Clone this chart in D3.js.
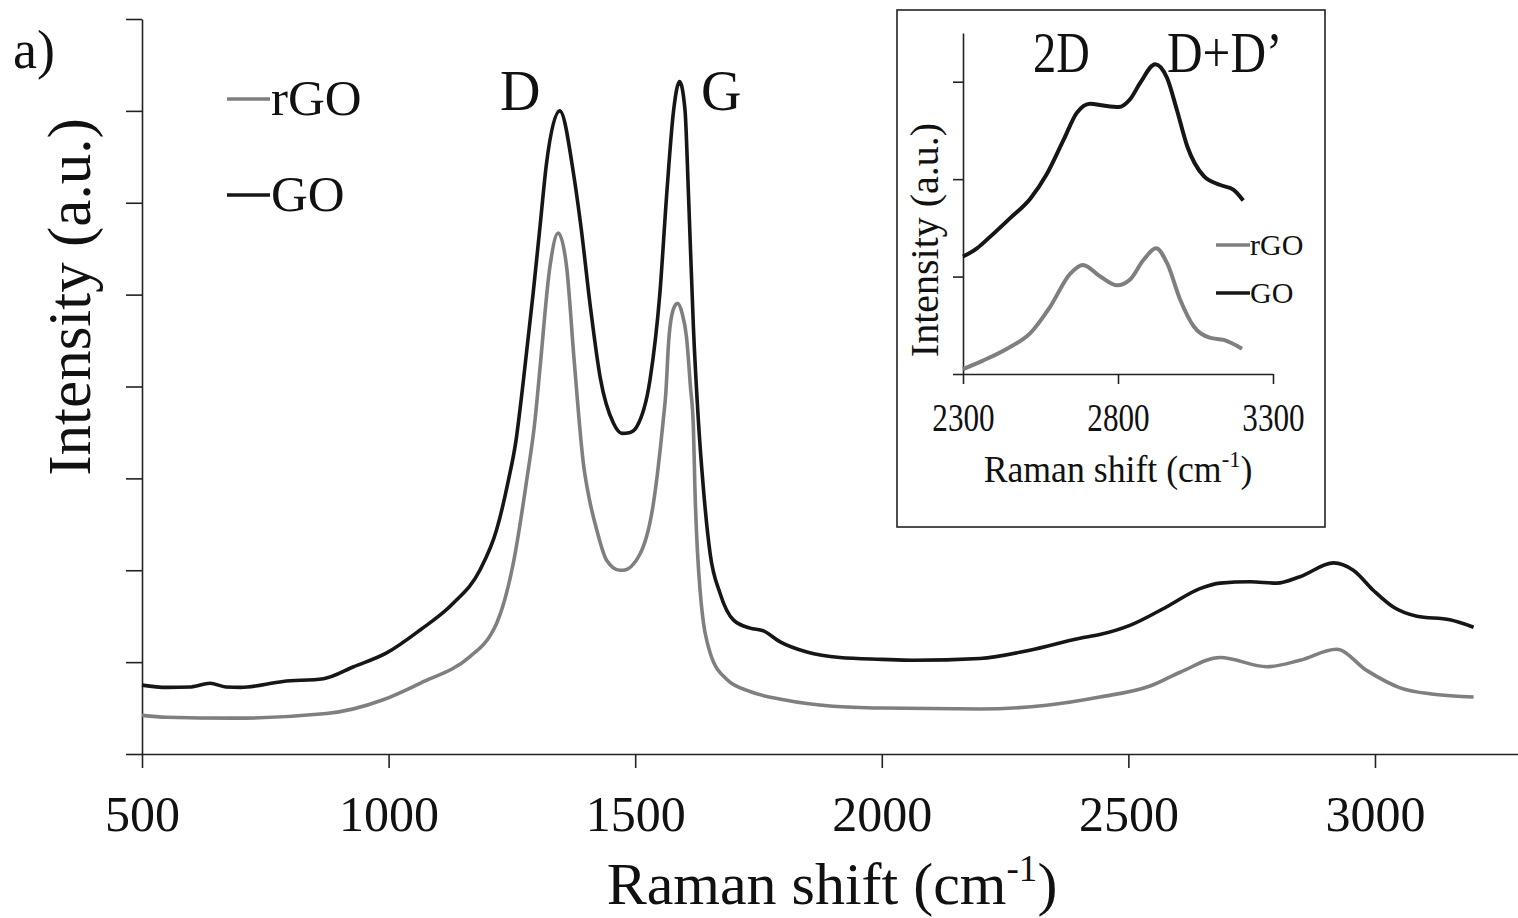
<!DOCTYPE html>
<html>
<head>
<meta charset="utf-8">
<script src="https://cdn.jsdelivr.net/npm/d3@7"></script>
<style>
  html, body { margin: 0; padding: 0; background: #fff; }
  svg { display: block; }
  text { font-family: "Liberation Serif", "Times New Roman", serif; fill: #111; }
</style>
</head>
<body>
<svg id="chart" width="1518" height="918"></svg>
<script>
// ---------- DATA ----------
const mainXTicks = [500, 1000, 1500, 2000, 2500, 3000];
const mainYTicks = [0, 1, 2, 3, 4, 5, 6, 7, 8];
const insetXTicks = [2300, 2800, 3300];
const insetYTicks = [0, 1, 2, 3];

const goShift = [500, 550, 600, 638, 670, 700, 786, 868, 929, 996, 1064, 1131, 1185, 1219, 1243, 1258, 1273, 1293, 1307, 1320, 1347, 1376, 1390, 1410, 1429, 1456, 1473, 1490, 1503, 1530, 1550, 1564, 1578, 1590, 1601, 1608, 1618, 1628, 1638, 1652, 1672, 1699, 1733, 1760, 1794, 1848, 1915, 2000, 2064, 2199, 2300, 2402, 2442, 2503, 2577, 2645, 2686, 2747, 2801, 2848, 2916, 2956, 2997, 3037, 3085, 3152, 3200];
const goIntensity = [0.75, 0.725, 0.73, 0.77, 0.73, 0.725, 0.79, 0.82, 0.95, 1.10, 1.35, 1.64, 2.00, 2.44, 2.98, 3.40, 4.05, 5.01, 5.74, 6.42, 7.00, 6.28, 5.74, 4.83, 4.10, 3.60, 3.49, 3.50, 3.56, 4.07, 5.01, 6.10, 7.01, 7.32, 7.01, 6.10, 4.65, 3.64, 2.91, 2.18, 1.75, 1.46, 1.37, 1.34, 1.22, 1.11, 1.05, 1.03, 1.02, 1.04, 1.13, 1.26, 1.30, 1.40, 1.60, 1.80, 1.86, 1.875, 1.86, 1.93, 2.08, 2.00, 1.78, 1.60, 1.50, 1.46, 1.38];

const rgoShift = [500, 550, 685, 874, 989, 1064, 1165, 1205, 1219, 1253, 1280, 1297, 1307, 1327, 1344, 1361, 1376, 1395, 1408, 1422, 1442, 1469, 1475, 1510, 1537, 1557, 1562, 1568, 1578, 1586, 1595, 1604, 1612, 1618, 1621, 1631, 1652, 1686, 1733, 1801, 1901, 2000, 2199, 2334, 2442, 2544, 2605, 2686, 2781, 2848, 2922, 2983, 3051, 3119, 3200];
const rgoIntensity = [0.42, 0.40, 0.39, 0.44, 0.59, 0.77, 1.06, 1.28, 1.42, 2.08, 2.98, 3.64, 4.20, 5.30, 5.67, 5.30, 4.30, 3.16, 2.75, 2.44, 2.11, 2.00, 2.00, 2.18, 2.73, 3.64, 3.92, 4.50, 4.85, 4.905, 4.80, 4.54, 4.00, 3.56, 2.91, 1.82, 1.10, 0.81, 0.68, 0.59, 0.52, 0.50, 0.49, 0.53, 0.62, 0.74, 0.89, 1.05, 0.95, 1.02, 1.14, 0.91, 0.72, 0.65, 0.62];

const insetGoShift = [2300, 2345, 2388, 2452, 2517, 2570, 2624, 2667, 2710, 2753, 2802, 2839, 2872, 2920, 2958, 2990, 3023, 3077, 3130, 3173, 3204];
const insetGoIntensity = [1.205, 1.29, 1.41, 1.60, 1.80, 2.05, 2.40, 2.68, 2.775, 2.755, 2.74, 2.82, 2.99, 3.18, 3.04, 2.71, 2.34, 2.03, 1.94, 1.89, 1.78];
const insetRgoShift = [2300, 2366, 2442, 2517, 2581, 2646, 2687, 2743, 2797, 2839, 2882, 2923, 2958, 3001, 3044, 3098, 3141, 3200];
const insetRgoIntensity = [0.05, 0.14, 0.26, 0.42, 0.69, 1.03, 1.12, 1.00, 0.91, 0.97, 1.17, 1.29, 1.14, 0.76, 0.49, 0.37, 0.35, 0.26];

const seriesNames = ["rGO", "GO"];
const seriesColors = ["#7f7f7f", "#161616"];
const peakLabelsMain = ["D", "G"];
const peakLabelsInset = ["2D", "D+D\u2019"];

// ---------- DRAW ----------
const svg = d3.select("#chart");
const zip = (xs, ys) => xs.map((x, i) => ({x, y: ys[i]}));

// main scales
const x = d3.scaleLinear().domain([500, 3290]).range([142, 1518]);
const y = d3.scaleLinear().domain([0, 8]).range([754, 19]);

const axisColor = "#222";

const gx = svg.append("g").attr("transform", "translate(0,754)")
  .call(d3.axisBottom(x).tickValues(mainXTicks).tickSize(14).tickSizeOuter(0).tickPadding(27).tickFormat(d3.format("d")));
const gy = svg.append("g").attr("transform", "translate(142,0)")
  .call(d3.axisLeft(y).tickValues(mainYTicks).tickSize(16).tickSizeOuter(0).tickFormat(""));
[gx, gy].forEach(g => {
  g.selectAll("path.domain").attr("stroke", axisColor).attr("stroke-width", 1.6);
  g.selectAll(".tick line").attr("stroke", axisColor).attr("stroke-width", 1.6);
});
gx.selectAll(".tick text").attr("font-size", 50).attr("font-family", "Liberation Serif").attr("fill", "#111");

const line = d3.line().x(d => x(d.x)).y(d => y(d.y)).curve(d3.curveMonotoneX);
svg.append("path").datum(zip(rgoShift, rgoIntensity))
  .attr("d", line).attr("fill", "none").attr("stroke", seriesColors[0]).attr("stroke-width", 3.6).attr("stroke-linejoin", "round");
svg.append("path").datum(zip(goShift, goIntensity))
  .attr("d", line).attr("fill", "none").attr("stroke", seriesColors[1]).attr("stroke-width", 3.6).attr("stroke-linejoin", "round");

// axis titles
const xt = svg.append("text").attr("x", 832).attr("y", 904).attr("text-anchor", "middle").attr("font-size", 60);
xt.append("tspan").text("Raman shift (cm");
xt.append("tspan").attr("font-size", 37).attr("dy", -23).text("-1");
xt.append("tspan").attr("font-size", 60).attr("dy", 23).text(")");

svg.append("text").attr("transform", "translate(90,297) rotate(-90)")
  .attr("text-anchor", "middle").attr("font-size", 61).text("Intensity (a.u.)");

svg.append("text").attr("x", 13).attr("y", 68).attr("font-size", 54).text("a)");

// main legend
seriesNames.forEach((name, i) => {
  const ly = 99 + i * 96;
  svg.append("line").attr("x1", 227).attr("x2", 270).attr("y1", ly).attr("y2", ly)
    .attr("stroke", seriesColors[i]).attr("stroke-width", 3.6);
  svg.append("text").attr("x", 271).attr("y", ly + 16).attr("font-size", 51).text(name);
});

// peak labels
svg.append("text").attr("x", 500).attr("y", 110).attr("font-size", 56).text(peakLabelsMain[0]);
svg.append("text").attr("x", 701).attr("y", 110).attr("font-size", 56).text(peakLabelsMain[1]);

// ---------- INSET ----------
svg.append("rect").attr("x", 897).attr("y", 10).attr("width", 428).attr("height", 517)
  .attr("fill", "#fff").attr("stroke", axisColor).attr("stroke-width", 1.6);

const ix = d3.scaleLinear().domain([2300, 3300]).range([963, 1273]);
const iy = d3.scaleLinear().domain([0, 3.5]).range([374, 33]);

const igx = svg.append("g").attr("transform", "translate(0,374)")
  .call(d3.axisBottom(ix).tickValues(insetXTicks).tickSize(10).tickSizeOuter(0).tickPadding(18).tickFormat(d3.format("d")));
const igy = svg.append("g").attr("transform", "translate(963,0)")
  .call(d3.axisLeft(iy).tickValues(insetYTicks).tickSize(10).tickSizeOuter(0).tickFormat(""));
[igx, igy].forEach(g => {
  g.selectAll("path.domain").attr("stroke", axisColor).attr("stroke-width", 1.6);
  g.selectAll(".tick line").attr("stroke", axisColor).attr("stroke-width", 1.6);
});
igx.selectAll(".tick text").attr("font-size", 41).attr("font-family", "Liberation Serif").attr("fill", "#111")
  .attr("transform", "scale(0.76,1)");

const iline = d3.line().x(d => ix(d.x)).y(d => iy(d.y)).curve(d3.curveMonotoneX);
svg.append("path").datum(zip(insetRgoShift, insetRgoIntensity))
  .attr("d", iline).attr("fill", "none").attr("stroke", seriesColors[0]).attr("stroke-width", 4).attr("stroke-linejoin", "round");
svg.append("path").datum(zip(insetGoShift, insetGoIntensity))
  .attr("d", iline).attr("fill", "none").attr("stroke", seriesColors[1]).attr("stroke-width", 4).attr("stroke-linejoin", "round");

// inset titles
const ixt = svg.append("g").attr("transform", "translate(1118,482) scale(0.94,1)")
  .append("text").attr("text-anchor", "middle").attr("font-size", 38);
ixt.append("tspan").text("Raman shift (cm");
ixt.append("tspan").attr("font-size", 24).attr("dy", -15).text("-1");
ixt.append("tspan").attr("font-size", 38).attr("dy", 15).text(")");

svg.append("text").attr("transform", "translate(938,240) rotate(-90)")
  .attr("text-anchor", "middle").attr("font-size", 40).text("Intensity (a.u.)");

svg.append("g").attr("transform", "translate(1033,72) scale(0.8,1)")
  .append("text").attr("font-size", 58).text(peakLabelsInset[0]);
svg.append("g").attr("transform", "translate(1167,72) scale(0.85,1)")
  .append("text").attr("font-size", 58).text(peakLabelsInset[1]);

// inset legend
seriesNames.forEach((name, i) => {
  const ly = 245 + i * 48;
  svg.append("line").attr("x1", 1216).attr("x2", 1250).attr("y1", ly).attr("y2", ly)
    .attr("stroke", seriesColors[i]).attr("stroke-width", 3.6);
  svg.append("text").attr("x", 1250).attr("y", ly + 10).attr("font-size", 30).text(name);
});
</script>
</body>
</html>
